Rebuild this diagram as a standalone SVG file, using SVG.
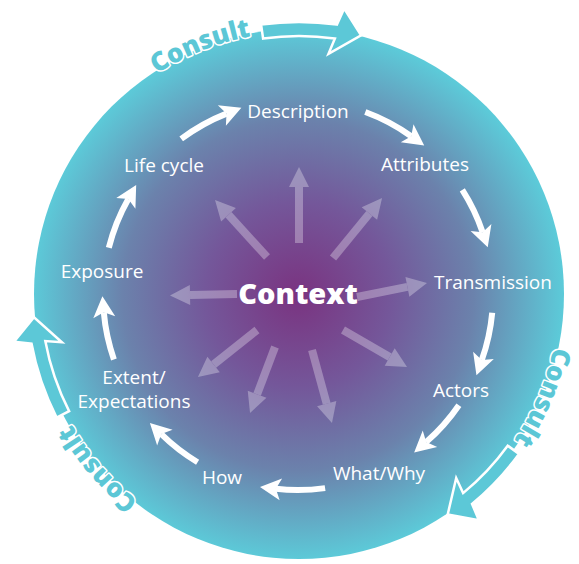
<svg xmlns="http://www.w3.org/2000/svg" width="579" height="564" viewBox="0 0 579 564">
<defs>
<radialGradient id="bg" cx="298" cy="295" r="266" gradientUnits="userSpaceOnUse">
<stop offset="0" stop-color="#7a3380"/>
<stop offset="0.35" stop-color="#74579a"/>
<stop offset="0.66" stop-color="#6b82ac"/>
<stop offset="1" stop-color="#5ccbd9"/>
</radialGradient>
<marker id="wh" markerUnits="userSpaceOnUse" viewBox="-6 -12 24 24" markerWidth="24" markerHeight="24" refX="0" refY="0" orient="auto">
<path d="M-5,-11 L16,0 L-5,11 L0,0 Z" fill="#fff"/>
</marker>
<marker id="rh" markerUnits="userSpaceOnUse" viewBox="-1 -11 23 22" markerWidth="23" markerHeight="22" refX="0" refY="0" orient="auto">
<path d="M0,-10 L20,0 L0,10 Z" fill="#fff"/>
</marker>
<path id="tp1" d="M124.7,98.4 A262,262 0 0 1 291.2,32.1"/>
<path id="tp2" d="M558.6,307.6 A260,260 0 0 1 489.2,471.3"/>
<path id="tp3" d="M172,523.1 A262,262 0 0 1 54.4,387.9"/>
</defs>
<style>
.lbl{font-family:"Open Sans","Noto Sans","DejaVu Sans",sans-serif;font-size:19px;fill:#fff;text-anchor:middle}
.ctx{font-family:"Open Sans","Noto Sans","DejaVu Sans",sans-serif;font-size:29px;font-weight:800;fill:#fff;text-anchor:middle}
.cons{font-family:"Open Sans","Noto Sans","DejaVu Sans",sans-serif;font-size:26px;font-weight:800;fill:#5cc7d6;stroke:#fff;stroke-width:3;paint-order:stroke;stroke-linejoin:round}
.band{fill:#5cc8d7;stroke:#fff;stroke-width:2.5;stroke-linejoin:miter}
.ring{fill:none;stroke:#fff;stroke-width:6;marker-end:url(#wh)}
.ray{stroke:#fff;stroke-width:8;marker-end:url(#rh)}
</style>
<g id="background">
<circle cx="299" cy="294" r="265" fill="url(#bg)"/>
</g>
<g id="consult">
<path class="band" d="M261.1,24.6 A272,272 0 0 1 336.9,24.6 L344.2,8.6 L361.1,35.3 L328.5,53.8 L334.9,38.5 A258,258 0 0 0 263.1,38.5 Z"/>
<path class="band" d="M519,453.9 A272,272 0 0 1 472,503.9 L478.9,520.2 L447.7,514.5 L456.2,478 L463.1,493.1 A258,258 0 0 0 507.7,445.7 Z"/>
<path class="band" d="M56.6,417.5 A272,272 0 0 1 31.5,343.6 L14,341.7 L34,317.2 L61.9,342.3 L45.3,341 A258,258 0 0 0 69.1,411.1 Z"/>
<text class="cons"><textPath href="#tp1" startOffset="50%" text-anchor="middle">Consult</textPath></text>
<text class="cons"><textPath href="#tp2" startOffset="50%" text-anchor="middle">Consult</textPath></text>
<text class="cons"><textPath href="#tp3" startOffset="50%" text-anchor="middle">Consult</textPath></text>
</g>
<g id="connectors">
<g id="rays" opacity="0.3">
<line class="ray" x1="299" y1="243" x2="299" y2="187"/>
<line class="ray" x1="267" y1="257" x2="228.5" y2="214.8"/>
<line class="ray" x1="333" y1="258" x2="369.4" y2="213.5"/>
<line class="ray" x1="237" y1="294" x2="190" y2="295"/>
<line class="ray" x1="357" y1="297" x2="407.4" y2="286.9"/>
<line class="ray" x1="343" y1="330" x2="389.7" y2="357"/>
<line class="ray" x1="312" y1="350" x2="326.7" y2="403.7"/>
<line class="ray" x1="275" y1="347" x2="257.1" y2="394.3"/>
<line class="ray" x1="257" y1="330" x2="213.6" y2="364.5"/>
</g>
<path class="ring" d="M181.2,138.9 A195,195 0 0 1 226.5,113.6"/>
<path class="ring" d="M365.3,112 A195,195 0 0 1 411.2,136.2"/>
<path class="ring" d="M462.3,189.9 A195,195 0 0 1 482.6,232.2"/>
<path class="ring" d="M492.2,312.7 A195,195 0 0 1 481.8,360.1"/>
<path class="ring" d="M458.9,405.2 A195,195 0 0 1 426.2,442"/>
<path class="ring" d="M325.1,488.1 A195,195 0 0 1 275.9,488.8"/>
<path class="ring" d="M197.6,462.2 A195,195 0 0 1 161.3,434.1"/>
<path class="ring" d="M113.9,359.4 A195,195 0 0 1 103.8,312.3"/>
<path class="ring" d="M108.8,247.8 A195,195 0 0 1 128.3,199"/>
</g>
<g id="context"><text class="ctx" x="298" y="304">Context</text></g>
<g id="description"><text class="lbl" x="298" y="118">Description</text></g>
<g id="attributes"><text class="lbl" x="425" y="171">Attributes</text></g>
<g id="transmission"><text class="lbl" x="493" y="289">Transmission</text></g>
<g id="actors"><text class="lbl" x="461" y="397">Actors</text></g>
<g id="whatwhy"><text class="lbl" x="379" y="480">What/Why</text></g>
<g id="how"><text class="lbl" x="222" y="484">How</text></g>
<g id="extent"><text class="lbl" x="134" y="384">Extent/</text><text class="lbl" x="134" y="408">Expectations</text></g>
<g id="exposure"><text class="lbl" x="102" y="278">Exposure</text></g>
<g id="lifecycle"><text class="lbl" x="164" y="172">Life cycle</text></g>
</svg>
